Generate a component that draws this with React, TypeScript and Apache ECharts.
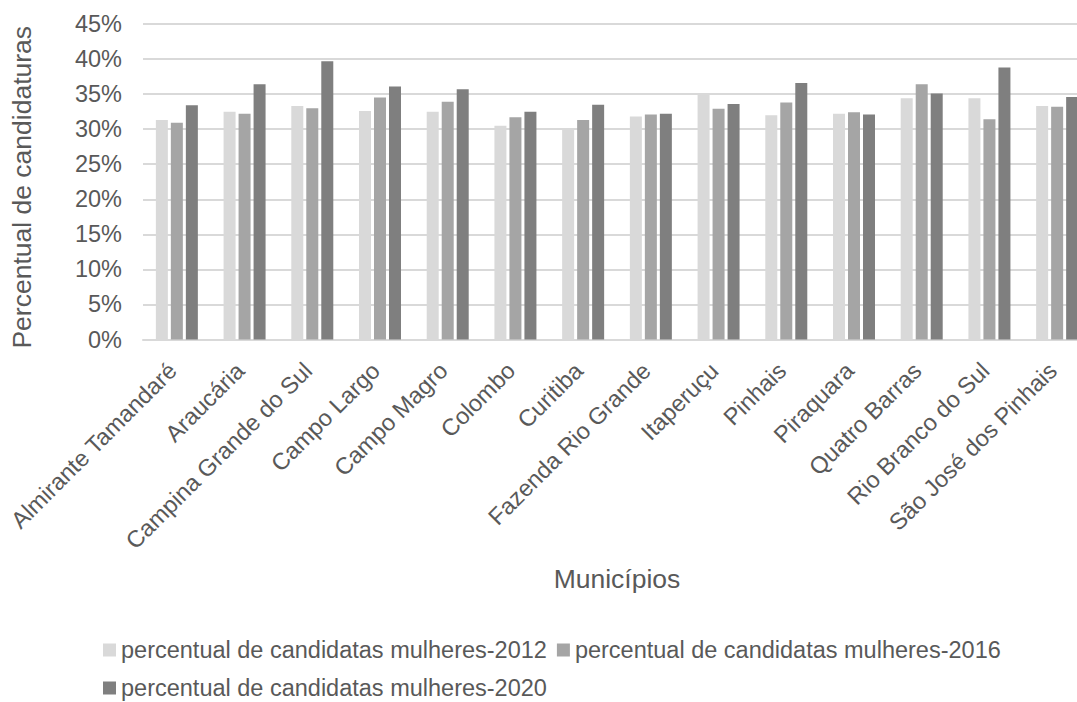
import React, { useEffect, useRef } from "react";
import * as echarts from "echarts";

// Municipalities of the Curitiba metropolitan region
const categories = [
  "Almirante Tamandaré",
  "Araucária",
  "Campina Grande do Sul",
  "Campo Largo",
  "Campo Magro",
  "Colombo",
  "Curitiba",
  "Fazenda Rio Grande",
  "Itaperuçu",
  "Pinhais",
  "Piraquara",
  "Quatro Barras",
  "Rio Branco do Sul",
  "São José dos Pinhais",
];

// Share of female candidates (%) per election year
const women2012 = [31.3, 32.5, 33.3, 32.6, 32.5, 30.5, 30.1, 31.8, 35.0, 32.0, 32.2, 34.4, 34.4, 33.3];
const women2016 = [30.9, 32.2, 33.0, 34.5, 33.9, 31.7, 31.3, 32.1, 32.9, 33.8, 32.4, 36.4, 31.4, 33.2];
const women2020 = [33.4, 36.4, 39.7, 36.1, 35.7, 32.5, 33.5, 32.2, 33.6, 36.6, 32.1, 35.1, 38.8, 34.6];

const seriesNames = [
  "percentual de candidatas mulheres-2012",
  "percentual de candidatas mulheres-2016",
  "percentual de candidatas mulheres-2020",
];
const seriesColors = ["#d9d9d9", "#a5a5a5", "#7f7f7f"];

const FONT = "'Liberation Sans', Arial, sans-serif";
const TEXT = "#595959";

export default function App() {
  const ref = useRef<HTMLDivElement>(null);

  useEffect(() => {
    document.body.style.margin = "0";
    document.body.style.overflow = "hidden";
    if (!ref.current) return;
    const chart = echarts.init(ref.current, undefined, { renderer: "svg" });
    const values = [women2012, women2016, women2020];
    chart.setOption({
      animation: false,
      backgroundColor: "#ffffff",
      textStyle: { fontFamily: FONT },
      grid: { left: 140, right: 0, top: 24, bottom: 362.5, containLabel: false },
      legend: {
        left: 98,
        top: 631,
        width: 910,
        itemWidth: 13,
        itemHeight: 13,
        itemGap: 10,
        icon: "rect",
        textStyle: { color: TEXT, fontSize: 23.5, fontFamily: FONT, lineHeight: 28 },
        data: seriesNames,
      },
      xAxis: {
        type: "category",
        data: categories,
        name: "Municípios",
        nameLocation: "middle",
        nameGap: 226,
        nameTextStyle: { color: TEXT, fontSize: 26.5, fontFamily: FONT },
        axisLine: { lineStyle: { color: "#d9d9d9", width: 2 } },
        axisTick: { show: false },
        axisLabel: {
          interval: 0,
          rotate: 45,
          margin: 23,
          padding: [0, 6, 0, 0],
          color: TEXT,
          fontSize: 23.5,
          fontFamily: FONT,
        },
      },
      yAxis: {
        type: "value",
        min: 0,
        max: 45,
        interval: 5,
        name: "Percentual de candidaturas",
        nameLocation: "middle",
        nameGap: 108,
        nameTextStyle: { color: TEXT, fontSize: 26.5, fontFamily: FONT, padding: [0, 11, 0, 0] },
        axisLine: { show: false },
        axisTick: { show: false },
        splitLine: { lineStyle: { color: "#d9d9d9", width: 2 } },
        axisLabel: {
          formatter: "{value}%",
          margin: 21,
          color: TEXT,
          fontSize: 23.5,
          fontFamily: FONT,
        },
      },
      series: seriesNames.map((name, i) => ({
        name,
        type: "bar",
        data: values[i],
        barWidth: 12,
        barGap: "25%",
        itemStyle: { color: seriesColors[i] },
      })),
    });
    return () => chart.dispose();
  }, []);

  return (
    <div style={{ position: "fixed", left: 0, top: 0, width: 1077, height: 702, overflow: "hidden", background: "#fff" }}>
      <div ref={ref} style={{ width: 1091, height: 702 }} />
    </div>
  );
}
